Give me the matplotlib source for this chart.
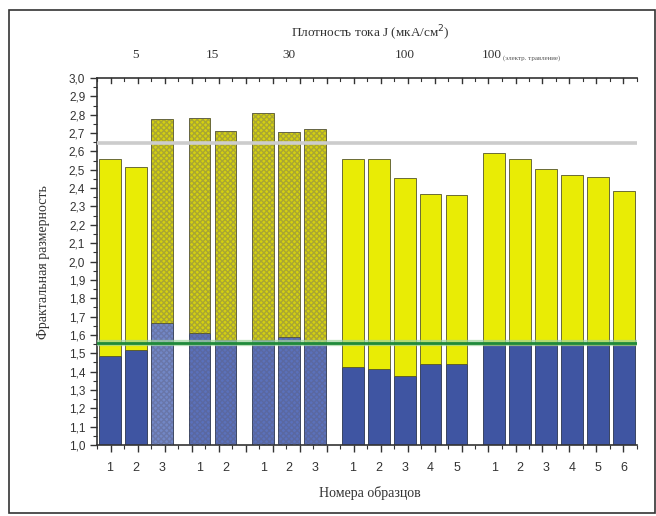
import matplotlib
matplotlib.use('Agg')
import matplotlib.pyplot as plt
from matplotlib.patches import Rectangle
import numpy as np

# sample numbers per group and top-axis current density labels
groups = ['5', '15', '30', '100', '100']
group_sizes = [3, 2, 3, 5, 6]
sample_labels = ['1', '2', '3', '1', '2', '1', '2', '3', '1', '2', '3', '4', '5',
                 '1', '2', '3', '4', '5', '6']
# fractal dimension: top of yellow part and top of blue part
top_vals = [2.56, 2.515, 2.775, 2.78, 2.71, 2.81, 2.705, 2.72,
            2.56, 2.56, 2.455, 2.37, 2.36,
            2.59, 2.56, 2.505, 2.47, 2.46, 2.385]
blue_vals = [1.485, 1.515, 1.665, 1.612, 1.572, 1.572, 1.587, 1.55,
             1.425, 1.415, 1.375, 1.44, 1.44,
             1.545, 1.545, 1.545, 1.545, 1.545, 1.545]
hatched = [False, False, True, True, True, True, True, True,
           False, False, False, False, False,
           False, False, False, False, False, False]
gray_level = 2.645
green_level = 1.555

gap = 0.46
pos = []
x0 = 0.0
for n in group_sizes:
    for i in range(n):
        pos.append(x0 + i)
    x0 += n + gap
pos = np.array(pos)

fig = plt.figure(figsize=(6.56, 5.16), dpi=100)
ax = fig.add_axes([97/656, 71/516, 540/656, 367/516])

# outer frame
fig.patches.append(Rectangle((9/656, 3/516), 646/656, 503/516, transform=fig.transFigure,
                             fill=False, edgecolor='#333333', linewidth=1.2))

w = 0.84
for i in range(len(pos)):
    if hatched[i]:
        yc, bc = '#d4d010', '#5b71bb'
        if i == 2:
            bc = '#7287c6'
    else:
        yc, bc = '#e9ec05', '#3f55a2'
    ax.bar(pos[i], blue_vals[i] - 1.0, bottom=1.0, width=w, color=bc,
           edgecolor='#2a3550', linewidth=0.6, zorder=2)
    ax.bar(pos[i], top_vals[i] - blue_vals[i], bottom=blue_vals[i], width=w, color=yc,
           edgecolor='#55552a', linewidth=0.6, zorder=2)
    if hatched[i]:
        ax.bar(pos[i], top_vals[i] - 1.0, bottom=1.0, width=w, fill=False,
               edgecolor=(0.35, 0.35, 0.45, 0.35), hatch='xxxxxx', linewidth=0, zorder=3)

xl = (pos[0] - 0.5, pos[-1] + 0.51)
ax.axhline(gray_level, color='#cccccc', linewidth=2.6, zorder=4)
ax.axhline(green_level, color='#9fd49f', linewidth=4.5, zorder=4, alpha=0.7)
ax.axhline(green_level, color='#1f8a3a', linewidth=2.0, zorder=5)

ax.set_xlim(xl)
ax.set_ylim(1.0, 3.0)

# y axis
ax.set_yticks(np.arange(1.0, 3.01, 0.1))
ax.set_yticks(np.arange(1.05, 3.0, 0.1), minor=True)
ax.set_yticklabels([('%.1f' % v).replace('.', ',') for v in np.arange(1.0, 3.01, 0.1)],
                   fontsize=8.5, family='Liberation Sans', color='#333333')
ax.tick_params(axis='y', which='major', direction='out', length=5, width=1, color='#333333')
ax.tick_params(axis='y', which='minor', direction='out', length=3, width=0.8, color='#333333')

# x ticks: uniform marks, labels put at bar centres
step = (xl[1] - xl[0]) / 40
ticks = xl[0] + step * np.arange(41)
ax.set_xticks(ticks[1::2])
ax.set_xticks(ticks[0::2], minor=True)
ax.set_xticklabels([])
ax.tick_params(axis='x', which='major', direction='out', length=5, width=1, color='#333333',
               top=True)
ax.tick_params(axis='x', which='minor', direction='out', length=3, width=0.8, color='#333333',
               top=True)
for t in ticks[1::2]:
    ax.plot([t, t], [3.0, 2.975], color='#333333', linewidth=1, clip_on=False, zorder=6)
for t in ticks[0::2]:
    ax.plot([t, t], [3.0, 2.985], color='#333333', linewidth=0.8, clip_on=False, zorder=6)
ax.tick_params(axis='x', top=False, which='both')

for p, s in zip(pos, sample_labels):
    ax.text(p, -0.045, s, transform=ax.get_xaxis_transform(), ha='center', va='top',
            fontsize=9, family='Liberation Sans', color='#333333')

ax.spines['right'].set_visible(False)
for s in ['left', 'bottom', 'top']:
    ax.spines[s].set_color('#333333')
    ax.spines[s].set_linewidth(1.2)

# group labels on top
start = 0
for g, n in zip(groups, group_sizes):
    c = pos[start:start + n].mean()
    if start + n == len(pos):
        ax.text(pos[start] - 0.5, 1.045, g, transform=ax.get_xaxis_transform(), ha='left',
                va='bottom', fontsize=9.5, family='Liberation Serif', color='#333333')
        ax.text(pos[start] + 0.35, 1.047, '(электр. травление)', transform=ax.get_xaxis_transform(),
                ha='left', va='bottom', fontsize=5, family='Liberation Serif', color='#555555')
    else:
        ax.text(c, 1.045, g, transform=ax.get_xaxis_transform(), ha='center', va='bottom',
                fontsize=9.5, family='Liberation Serif', color='#333333')
    start += n

fig.text(370/656, 1 - 33/516, 'Плотность тока J (мкА/см$^2$)', ha='center', va='center',
         fontsize=9.5, family='Liberation Serif', color='#333333')
fig.text(370/656, 1 - 493/516, 'Номера образцов', ha='center', va='center',
         fontsize=10, family='Liberation Serif', color='#333333')
fig.text(44/656, 1 - 262/516, 'Фрактальная размерность', ha='center', va='center',
         rotation=90, fontsize=10, family='Liberation Serif', color='#333333')

fig.savefig('out.png', dpi=100)
